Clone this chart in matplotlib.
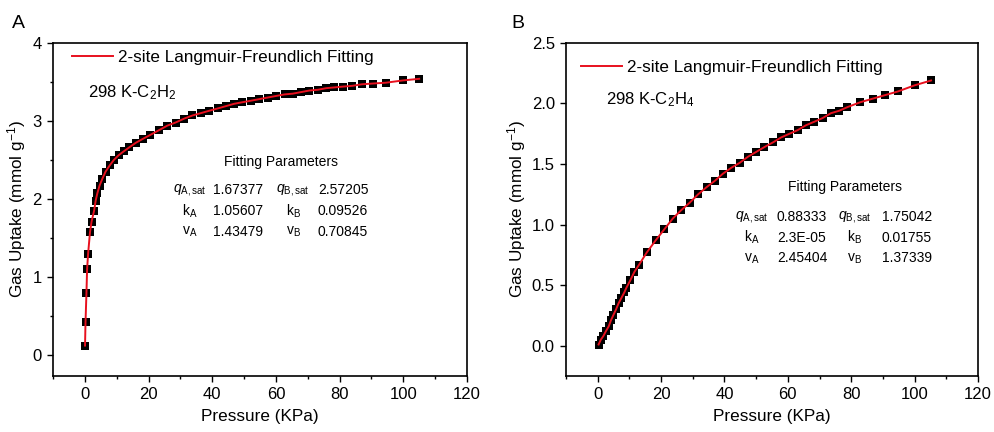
import numpy as np
from matplotlib import pyplot as plt
from matplotlib.ticker import MultipleLocator

plt.rcParams['font.family'] = ['Liberation Sans', 'DejaVu Sans']
plt.rcParams['mathtext.fontset'] = 'custom'
plt.rcParams['mathtext.rm'] = 'Liberation Sans'
plt.rcParams['mathtext.it'] = 'Liberation Sans:italic'

# 298 K - C2H2 isotherm (panel A)
p_c2h2 = [0.05, 0.2, 0.5, 0.7, 1.0, 1.6, 2.1, 2.9, 3.4, 3.9, 4.6, 5.5, 6.5, 7.8, 9.1,
          10.6, 12.2, 13.9, 16.0, 18.2, 20.5, 23.2, 25.9, 28.5, 31.2, 33.8, 36.4, 39.0,
          41.7, 44.3, 46.9, 49.5, 52.2, 54.8, 57.4, 60.0, 62.7, 65.3, 67.9, 70.5, 73.2,
          75.8, 78.4, 81.0, 84.0, 87.0, 90.5, 94.5, 100.0, 105.0]
q_c2h2 = [0.12, 0.42, 0.80, 1.10, 1.29, 1.57, 1.71, 1.85, 1.98, 2.07, 2.17, 2.26, 2.35, 2.43, 2.50,
          2.56, 2.61, 2.66, 2.72, 2.77, 2.82, 2.88, 2.94, 2.98, 3.03, 3.07, 3.10, 3.13,
          3.16, 3.19, 3.22, 3.24, 3.26, 3.28, 3.30, 3.32, 3.34, 3.35, 3.37, 3.39, 3.40,
          3.42, 3.43, 3.44, 3.45, 3.47, 3.48, 3.49, 3.52, 3.54]

# 298 K - C2H4 isotherm (panel B)
p_c2h4 = [0.3, 1.0, 1.8, 2.6, 3.5, 4.2, 4.9, 5.8, 6.6, 7.4, 8.4, 9.1, 10.3, 11.6, 13.1,
          15.5, 18.3, 21.0, 23.7, 26.4, 29.0, 31.7, 34.4, 36.9, 39.5, 42.2, 44.8, 47.4,
          50.0, 52.6, 55.4, 57.9, 60.5, 63.1, 65.7, 68.4, 71.0, 73.6, 76.2, 78.8, 82.8,
          86.8, 90.8, 94.8, 100.0, 105.2]
q_c2h4 = [0.01, 0.05, 0.08, 0.12, 0.16, 0.21, 0.25, 0.30, 0.35, 0.39, 0.44, 0.48, 0.54, 0.61, 0.67,
          0.77, 0.87, 0.96, 1.05, 1.12, 1.18, 1.25, 1.31, 1.36, 1.42, 1.47, 1.51, 1.56,
          1.60, 1.64, 1.68, 1.72, 1.75, 1.78, 1.82, 1.85, 1.88, 1.92, 1.94, 1.97, 2.01,
          2.04, 2.07, 2.10, 2.15, 2.19]

# fitting parameters (label, value) rows
params_a = [(r'$q_{\mathrm{A,sat}}$', '1.67377', r'$q_{\mathrm{B,sat}}$', '2.57205'),
            (r'k$_\mathrm{A}$', '1.05607', r'k$_\mathrm{B}$', '0.09526'),
            (r'v$_\mathrm{A}$', '1.43479', r'v$_\mathrm{B}$', '0.70845')]
params_b = [(r'$q_{\mathrm{A,sat}}$', '0.88333', r'$q_{\mathrm{B,sat}}$', '1.75042'),
            (r'k$_\mathrm{A}$', '2.3E-05', r'k$_\mathrm{B}$', '0.01755'),
            (r'v$_\mathrm{A}$', '2.45404', r'v$_\mathrm{B}$', '1.37339')]

fig = plt.figure(figsize=(9.95, 4.32), dpi=100)
ax_a = fig.add_axes([0.0533, 0.1296, 0.416, 0.771])
ax_b = fig.add_axes([0.5688, 0.1296, 0.4141, 0.771])


def style(ax):
    for s in ax.spines.values():
        s.set_linewidth(1.2)
    ax.tick_params(which='both', direction='out', top=False, right=False,
                   labelsize=12, width=1.0)
    ax.tick_params(which='major', length=4.5)
    ax.tick_params(which='minor', length=2.5)
    ax.set_xlim(-10, 120)
    ax.xaxis.set_major_locator(MultipleLocator(20))
    ax.xaxis.set_minor_locator(MultipleLocator(10))
    ax.set_xlabel('Pressure (KPa)', fontsize=12.3, labelpad=5)
    ax.set_ylabel('Gas Uptake (mmol g$^{-1}$)', fontsize=12.3, labelpad=3)


def params_block(ax, rows, xl1, xv1, xl2, xv2, xh, yh, ys):
    ax.text(xh, yh, 'Fitting Parameters', transform=ax.transAxes,
            ha='center', va='center', fontsize=10)
    for (l1, v1, l2, v2), y in zip(rows, ys):
        ax.text(xl1, y, l1, transform=ax.transAxes, ha='center', va='center', fontsize=10)
        ax.text(xv1, y, v1, transform=ax.transAxes, ha='left', va='center', fontsize=10)
        ax.text(xl2, y, l2, transform=ax.transAxes, ha='center', va='center', fontsize=10)
        ax.text(xv2, y, v2, transform=ax.transAxes, ha='left', va='center', fontsize=10)


# panel A
ax_a.plot(p_c2h2, q_c2h2, 's', color='black', ms=6.2, mew=0, zorder=2)
ax_a.plot(p_c2h2, q_c2h2, '-', color='#e8101e', lw=1.4, zorder=3,
          label='2-site Langmuir-Freundlich Fitting')
style(ax_a)
ax_a.set_ylim(-0.27, 4)
ax_a.yaxis.set_major_locator(MultipleLocator(1))
ax_a.yaxis.set_minor_locator(MultipleLocator(0.5))
ax_a.legend(loc='upper left', bbox_to_anchor=(0.046, 0.978), frameon=False,
            borderaxespad=0, borderpad=0, handlelength=2.4, handletextpad=0.3,
            fontsize=12.3)
ax_a.text(0.085, 0.85, '298 K-C$_2$H$_2$', transform=ax_a.transAxes,
          ha='left', va='center', fontsize=12)
params_block(ax_a, params_a, 0.331, 0.386, 0.580, 0.640, 0.551, 0.643,
             [0.559, 0.495, 0.432])
fig.text(0.012, 0.945, 'A', fontsize=14, ha='left', va='center')

# panel B
ax_b.plot(p_c2h4, q_c2h4, 's', color='black', ms=6.2, mew=0, zorder=2)
ax_b.plot(p_c2h4, q_c2h4, '-', color='#e8101e', lw=1.4, zorder=3,
          label='2-site Langmuir-Freundlich Fitting')
style(ax_b)
ax_b.set_ylim(-0.25, 2.5)
ax_b.yaxis.set_major_locator(MultipleLocator(0.5))
ax_b.yaxis.set_major_formatter('{x:.1f}')
ax_b.legend(loc='upper left', bbox_to_anchor=(0.036, 0.948), frameon=False,
            borderaxespad=0, borderpad=0, handlelength=2.4, handletextpad=0.3,
            fontsize=12.3)
ax_b.text(0.097, 0.829, '298 K-C$_2$H$_4$', transform=ax_b.transAxes,
          ha='left', va='center', fontsize=12)
params_block(ax_b, params_b, 0.451, 0.512, 0.701, 0.767, 0.677, 0.568,
             [0.478, 0.415, 0.353])
fig.text(0.514, 0.945, 'B', fontsize=14, ha='left', va='center')

fig.savefig('out.png', dpi=100)
